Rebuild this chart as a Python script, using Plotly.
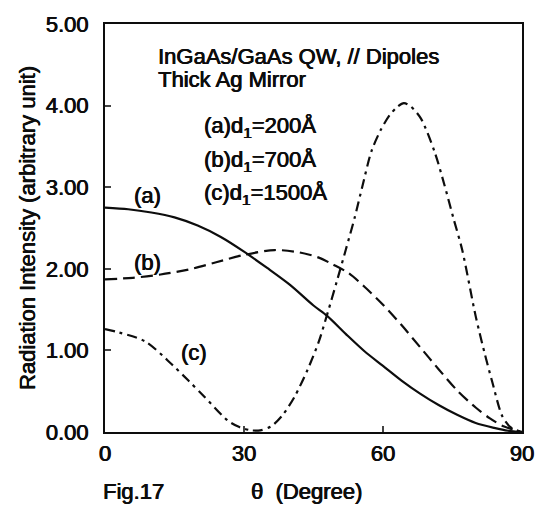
import plotly.graph_objects as go

theta_a = [0, 5, 10, 15, 20, 25, 30, 35, 40, 45, 48, 52, 56, 60, 64, 68, 72, 76, 80, 84, 87, 90]
val_a = [2.75, 2.73, 2.69, 2.63, 2.53, 2.39, 2.21, 2.01, 1.80, 1.55, 1.42, 1.20, 0.99, 0.81, 0.63, 0.47, 0.33, 0.21, 0.11, 0.05, 0.015, 0.0]

theta_b = [0, 6, 12, 18, 24, 30, 36.6, 42, 46, 49.3, 52.5, 56, 60, 64, 68, 72, 76, 80, 83, 86, 90]
val_b = [1.87, 1.89, 1.93, 1.99, 2.08, 2.17, 2.23, 2.20, 2.14, 2.05, 1.95, 1.78, 1.56, 1.31, 1.04, 0.77, 0.51, 0.30, 0.17, 0.07, 0.0]

theta_c = [0, 3, 8.7, 14.4, 18, 21.5, 26.5, 29, 31.6, 33.5, 35.9, 38.5, 40.9, 43.7, 46.1, 48, 50, 52, 53.9, 55.5, 57.5,
           59.5, 61.4, 63, 64.5, 66, 68.2, 71.1, 73.2, 75.2, 77.1, 80, 82, 83.6, 85.7, 87.5, 90]
val_c = [1.26, 1.22, 1.11, 0.83, 0.63, 0.43, 0.14, 0.06, 0.02, 0.02, 0.07, 0.22, 0.43, 0.76, 1.10, 1.45, 1.84, 2.24, 2.63, 3.00, 3.44,
         3.70, 3.88, 3.98, 4.03, 3.99, 3.84, 3.44, 3.04, 2.62, 2.23, 1.42, 0.95, 0.61, 0.20, 0.06, 0.0]

x_ticks = [0, 30, 60, 90]
y_ticks = [0, 1, 2, 3, 4, 5]
y_tick_labels = ["0.00", "1.00", "2.00", "3.00", "4.00", "5.00"]

FONT = "Liberation Sans, Arial, sans-serif"
INK = "#0d0d0d"
THICK = "0.5px 0 0 #0d0d0d, -0.3px 0 0 #0d0d0d"


def tfont(size):
    return dict(family=FONT, size=size, color=INK, shadow=THICK)


fig = go.Figure()
fig.add_trace(go.Scatter(x=theta_a, y=val_a, mode="lines",
                         line=dict(color=INK, width=2.2, shape="spline", smoothing=0.8)))
fig.add_trace(go.Scatter(x=theta_b, y=val_b, mode="lines",
                         line=dict(color=INK, width=2.2, dash="12px,6px", shape="spline", smoothing=0.8)))
fig.add_trace(go.Scatter(x=theta_c, y=val_c, mode="lines",
                         line=dict(color=INK, width=2.2, dash="10px,5px,3px,5px", shape="spline", smoothing=0.8)))

ann = [
    dict(x=10.9, y=4.60, text="InGaAs/GaAs QW, // Dipoles", xanchor="left"),
    dict(x=10.9, y=4.32, text="Thick Ag Mirror", xanchor="left"),
    dict(x=21.0, y=3.74, text="(a)d<sub>1</sub>=200Å", xanchor="left"),
    dict(x=21.0, y=3.32, text="(b)d<sub>1</sub>=700Å", xanchor="left"),
    dict(x=21.0, y=2.92, text="(c)d<sub>1</sub>=1500Å", xanchor="left"),
    dict(x=9.2, y=2.90, text="(a)", xanchor="center"),
    dict(x=9.2, y=2.08, text="(b)", xanchor="center"),
    dict(x=19.1, y=0.98, text="(c)", xanchor="center"),
]
for a in ann:
    fig.add_annotation(x=a["x"], y=a["y"], text=a["text"], xanchor=a["xanchor"], yanchor="middle",
                       showarrow=False, font=tfont(22))

fig.add_annotation(xref="paper", yref="paper", x=-0.01, y=-0.147, text="Fig.17", xanchor="left",
                   yanchor="middle", showarrow=False, font=tfont(22))
fig.add_annotation(xref="paper", yref="paper", x=0.346, y=-0.147, text="θ  (Degree)", xanchor="left",
                   yanchor="middle", showarrow=False, font=tfont(22))

fig.update_layout(
    width=546, height=511,
    margin=dict(l=105, r=22, t=17, b=79),
    paper_bgcolor="white", plot_bgcolor="white",
    showlegend=False,
    font=dict(family=FONT, color=INK),
)
fig.update_xaxes(range=[0, 90], tickvals=x_ticks, ticks="inside", ticklen=6, tickwidth=1.5,
                 showline=True, linecolor=INK, linewidth=2, mirror=True, showgrid=False, zeroline=False,
                 ticklabelstandoff=1, tickfont=tfont(22))
fig.update_yaxes(range=[0, 5], tickvals=y_ticks, ticktext=y_tick_labels, ticks="inside", ticklen=6,
                 tickwidth=1.5, showline=True, linecolor=INK, linewidth=2, mirror=True, showgrid=False,
                 zeroline=False, ticklabelstandoff=10, tickfont=tfont(22),
                 title=dict(text="Radiation Intensity (arbitrary unit)", font=tfont(22), standoff=4))

fig.write_html("out.html")
